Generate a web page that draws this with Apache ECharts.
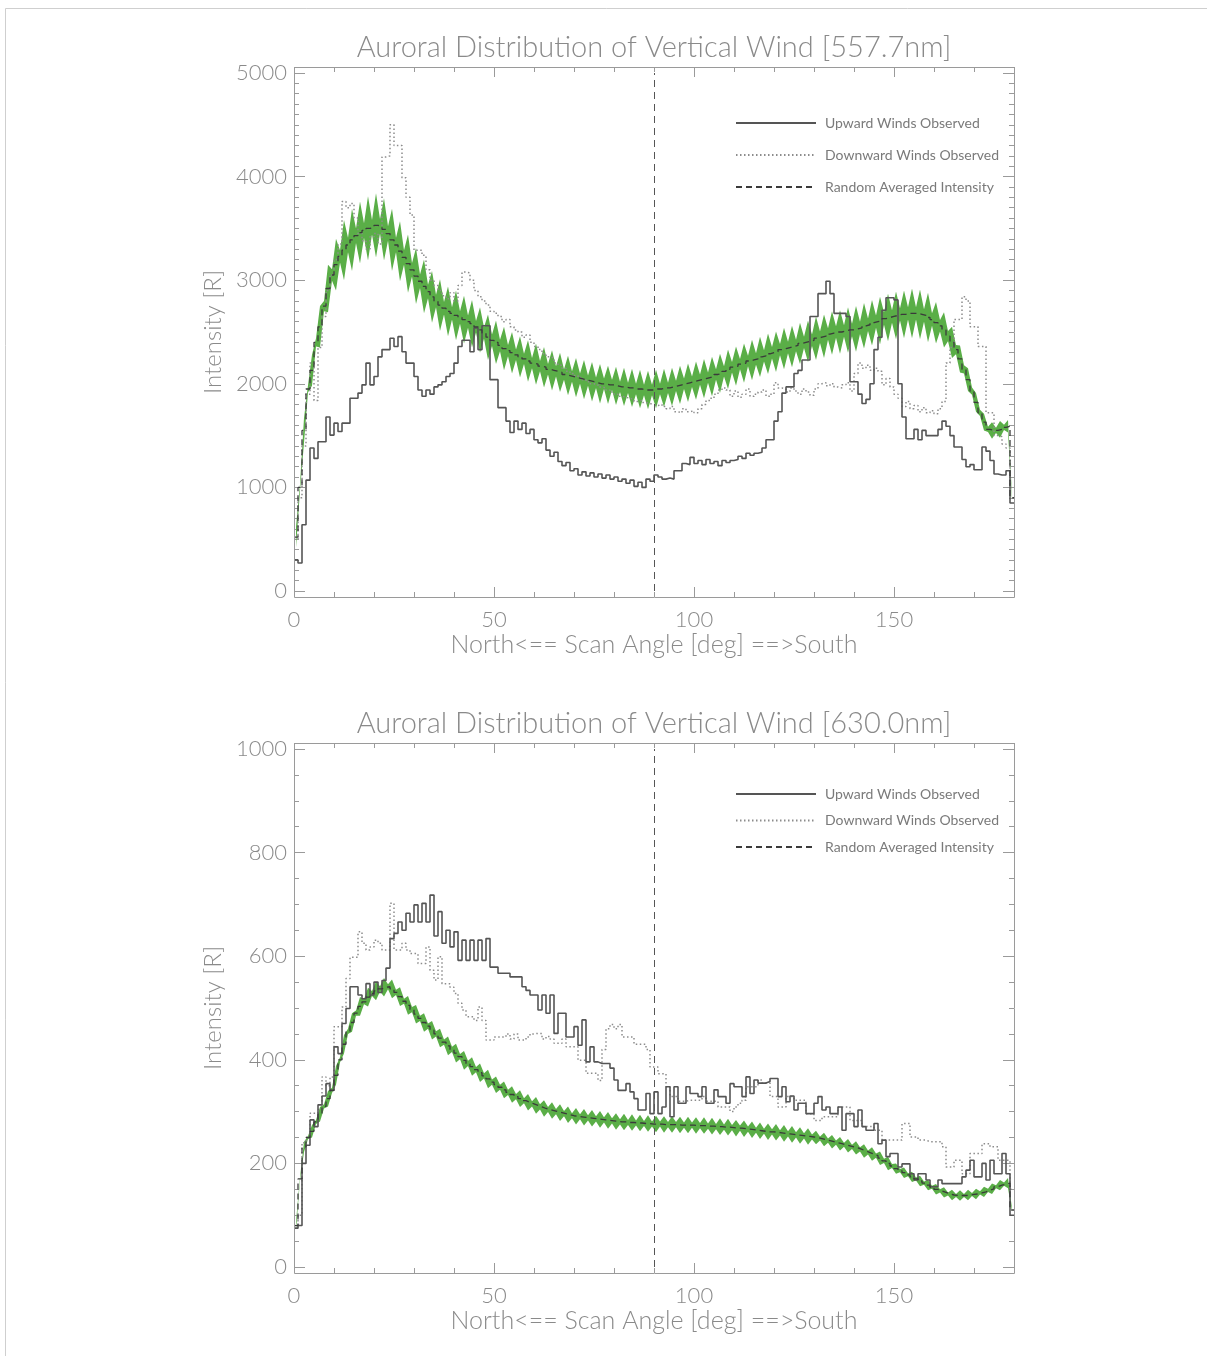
<!DOCTYPE html>
<html>
<head>
<meta charset="utf-8">
<title>Auroral Distribution of Vertical Wind</title>
<script src="https://cdn.jsdelivr.net/npm/echarts@6/dist/echarts.min.js"></script>
<style>
  html, body { margin: 0; padding: 0; background: #fff; }
  #chart { width: 1207px; height: 1356px; }
</style>
</head>
<body>
<div id="chart"></div>
<script>
// one value per 1 deg scan bin (0..179)
var upward557 = [
  300, 270, 640, 1070, 1380, 1280, 1440, 1440, 1680, 1505,
  1620, 1540, 1620, 1620, 1860, 1860, 1910, 1990, 2200, 1990,
  2070, 2260, 2330, 2330, 2440, 2360, 2455, 2310, 2200, 2200,
  2070, 1940, 1880, 1940, 1900, 1970, 1990, 2020, 2070, 2100,
  2200, 2360, 2420, 2420, 2310, 2540, 2330, 2560, 2560, 2040,
  2040, 1770, 1770, 1640, 1530, 1640, 1560, 1620, 1520, 1560,
  1460, 1430, 1470, 1360, 1300, 1340, 1250, 1210, 1240, 1160,
  1180, 1120, 1150, 1110, 1140, 1100, 1130, 1090, 1120, 1080,
  1100, 1060, 1080, 1040, 1070, 1010, 1050, 1000, 1080, 1060,
  1120, 1100, 1080, 1090, 1080, 1160, 1160, 1230, 1220, 1290,
  1230, 1260, 1220, 1270, 1230, 1250, 1210, 1260, 1240, 1260,
  1270, 1300, 1280, 1330, 1310, 1330, 1340, 1380, 1460, 1460,
  1640, 1730, 1910, 1970, 1970, 2100, 2130, 2230, 2230, 2650,
  2650, 2870, 2870, 2990, 2870, 2680, 2680, 2680, 2650, 2020,
  2020, 1900, 1810, 1850, 2000, 2330, 2450, 2710, 2830, 2830,
  2810, 2000, 1680, 1470, 1470, 1560, 1460, 1550, 1500, 1500,
  1500, 1560, 1640, 1590, 1500, 1390, 1390, 1270, 1200, 1220,
  1170, 1170, 1390, 1350, 1260, 1130, 1120, 1120, 1160, 850
]
var downward557 = [
  500, 900, 1400, 1900, 2200, 1840, 2350, 2650, 2900, 3050,
  3200, 3350, 3760, 3700, 3740, 3600, 3450, 3380, 3300, 3420,
  3450, 3350, 4190, 4200, 4500, 4300, 4300, 3990, 3800, 3630,
  3290, 3290, 3240, 3100, 3000, 2950, 2900, 2850, 2820, 2880,
  2800, 2950, 3080, 3070, 3000, 2900, 2840, 2800, 2760, 2700,
  2680, 2650, 2600, 2620, 2550, 2520, 2500, 2450, 2470, 2400,
  2360, 2330, 2290, 2260, 2250, 2200, 2180, 2150, 2120, 2100,
  2080, 2060, 2040, 2020, 2000, 1990, 1970, 1960, 1940, 1920,
  1900, 1880, 1870, 1860, 1850, 1830, 1840, 1820, 1810, 1800,
  1790, 1800, 1780, 1760, 1780, 1730, 1720, 1760, 1730, 1740,
  1720, 1760, 1800, 1840, 1860, 1900, 1940, 1960, 1940, 1880,
  1930, 1870, 1900, 1950, 1880, 1900, 1920, 1940, 1880, 1900,
  2010, 1960, 1950, 1920, 1960, 1930, 1900, 1950, 1920, 1890,
  1950, 2000, 2010, 1980, 2000, 1970, 1960, 1990, 2010, 1930,
  2100, 2200, 2150, 2180, 2130, 2150, 2120, 1990, 2050, 1970,
  1900, 1860, 1780, 1830, 1760, 1790, 1730, 1770, 1720, 1740,
  1710, 1760, 1830, 2200, 2350, 2620, 2620, 2840, 2800, 2550,
  2550, 2360, 2360, 1720, 1720, 1500, 1490, 1420, 1380, 1000
]
var average557 = [
  520, 1000, 1550, 1950, 2130, 2400, 2550, 2750, 2920, 3050,
  3150, 3230, 3290, 3340, 3390, 3430, 3460, 3480, 3500, 3510,
  3530, 3520, 3490, 3450, 3390, 3340, 3280, 3220, 3160, 3100,
  3040, 2990, 2940, 2890, 2840, 2800, 2760, 2730, 2700, 2680,
  2660, 2640, 2620, 2600, 2580, 2550, 2520, 2490, 2450, 2420,
  2400, 2370, 2340, 2320, 2300, 2280, 2260, 2240, 2220, 2200,
  2190, 2170, 2160, 2140, 2130, 2120, 2110, 2090, 2080, 2070,
  2060, 2050, 2040, 2030, 2020, 2010, 2000, 2000, 1990, 1990,
  1980, 1970, 1970, 1960, 1960, 1950, 1950, 1940, 1940, 1940,
  1950, 1950, 1960, 1960, 1970, 1980, 1990, 2000, 2010, 2020,
  2030, 2040, 2050, 2060, 2070, 2090, 2100, 2120, 2140, 2160,
  2170, 2190, 2200, 2220, 2230, 2240, 2260, 2270, 2290, 2300,
  2310, 2330, 2340, 2350, 2360, 2370, 2390, 2400, 2410, 2420,
  2440, 2450, 2460, 2480, 2490, 2500, 2500, 2510, 2520, 2520,
  2530, 2540, 2560, 2570, 2590, 2600, 2610, 2630, 2640, 2650,
  2660, 2670, 2670, 2680, 2680, 2680, 2670, 2660, 2640, 2620,
  2590, 2560, 2520, 2460, 2400, 2330, 2240, 2140, 2040, 1930,
  1820, 1720, 1630, 1560, 1550, 1550, 1560, 1580, 1590, 900
]
// half width of the green band (alternates bin to bin)
var spread557 = [
  100, 30, 120, 35, 150, 40, 200, 50, 230, 55,
  250, 60, 290, 70, 300, 70, 300, 70, 310, 70,
  310, 70, 300, 70, 300, 70, 290, 70, 280, 65,
  270, 65, 260, 65, 250, 60, 250, 60, 240, 60,
  240, 60, 230, 60, 230, 55, 220, 55, 220, 55,
  210, 55, 210, 55, 200, 50, 200, 50, 200, 50,
  200, 50, 195, 50, 195, 50, 190, 50, 190, 50,
  190, 50, 190, 50, 190, 50, 190, 50, 185, 50,
  185, 50, 185, 50, 185, 50, 185, 50, 185, 50,
  185, 50, 185, 50, 185, 50, 185, 50, 185, 50,
  185, 50, 190, 50, 190, 50, 190, 50, 190, 50,
  190, 50, 190, 50, 195, 55, 195, 55, 195, 55,
  195, 55, 200, 55, 200, 55, 200, 55, 200, 55,
  210, 55, 210, 55, 210, 55, 210, 55, 220, 60,
  220, 60, 220, 60, 220, 60, 230, 60, 230, 60,
  230, 60, 230, 60, 240, 60, 240, 60, 240, 60,
  200, 55, 170, 50, 150, 45, 130, 40, 110, 35,
  90, 30, 80, 25, 80, 25, 80, 25, 60, 20
]

var upward630 = [
  75, 80, 200, 235, 284, 271, 313, 330, 354, 341,
  425, 412, 470, 499, 541, 541, 525, 518, 547, 525,
  550, 530, 553, 577, 634, 644, 666, 650, 683, 666,
  699, 666, 702, 666, 718, 639, 686, 625, 650, 618,
  647, 592, 631, 592, 631, 592, 631, 592, 634, 579,
  579, 567, 567, 567, 560, 560, 560, 541, 534, 525,
  525, 496, 525, 490, 525, 451, 490, 490, 444, 444,
  464, 428, 477, 396, 425, 396, 393, 393, 393, 384,
  361, 341, 341, 354, 338, 325, 303, 303, 335, 296,
  338, 296, 309, 348, 290, 348, 316, 316, 348, 335,
  335, 329, 348, 316, 316, 342, 329, 329, 316, 354,
  348, 348, 329, 367, 335, 361, 355, 355, 358, 364,
  364, 329, 348, 319, 330, 303, 316, 316, 296, 296,
  316, 329, 303, 309, 296, 296, 309, 264, 296, 296,
  271, 303, 271, 264, 264, 277, 238, 245, 213, 219,
  219, 193, 199, 199, 180, 168, 180, 180, 168, 155,
  155, 168, 161, 161, 161, 161, 161, 174, 187, 206,
  174, 174, 200, 168, 206, 180, 180, 219, 180, 100
]
var downward630 = [
  80, 100, 240, 250, 297, 297, 304, 367, 350, 367,
  464, 464, 502, 557, 598, 598, 647, 625, 612, 618,
  631, 625, 612, 612, 702, 612, 612, 625, 612, 605,
  605, 586, 586, 618, 573, 554, 599, 547, 547, 540,
  528, 509, 496, 483, 483, 476, 502, 476, 438, 438,
  444, 444, 444, 450, 440, 450, 438, 438, 444, 450,
  451, 451, 440, 445, 440, 432, 432, 440, 425, 425,
  425, 399, 399, 374, 374, 374, 360, 420, 460, 468,
  460, 468, 444, 444, 444, 430, 430, 430, 420, 386,
  386, 373, 373, 348, 329, 329, 320, 320, 322, 322,
  322, 322, 329, 320, 320, 320, 309, 309, 309, 300,
  309, 316, 322, 348, 348, 348, 361, 355, 355, 329,
  329, 309, 309, 329, 329, 322, 322, 322, 296, 296,
  283, 283, 290, 290, 290, 290, 309, 309, 309, 283,
  283, 283, 271, 271, 271, 264, 264, 245, 245, 245,
  245, 245, 277, 277, 251, 251, 245, 245, 242, 242,
  242, 242, 232, 193, 193, 206, 206, 180, 180, 219,
  219, 219, 238, 238, 232, 232, 206, 206, 206, 150
]
var average630 = [
  80, 170, 232, 250, 262, 280, 295, 310, 325, 341,
  370, 400, 430, 455, 472, 490, 503, 512, 521, 528,
  533, 537, 540, 541, 537, 530, 522, 513, 505, 497,
  488, 480, 472, 465, 457, 450, 442, 434, 427, 420,
  413, 406, 399, 393, 387, 381, 375, 369, 363, 357,
  352, 347, 342, 337, 333, 329, 325, 321, 318, 315,
  312, 309, 306, 304, 302, 300, 298, 296, 294, 292,
  291, 290, 289, 288, 287, 286, 285, 284, 283, 282,
  281, 280, 280, 279, 279, 278, 278, 277, 277, 276,
  276, 276, 275, 275, 275, 275, 274, 274, 274, 274,
  273, 273, 273, 272, 272, 271, 271, 270, 270, 269,
  268, 268, 267, 266, 265, 264, 263, 262, 261, 261,
  260, 259, 258, 257, 256, 255, 254, 253, 252, 251,
  250, 248, 246, 244, 242, 240, 238, 236, 234, 232,
  230, 227, 224, 221, 218, 215, 210, 205, 200, 195,
  190, 186, 182, 178, 174, 170, 166, 162, 158, 154,
  150, 147, 144, 141, 139, 138, 138, 138, 139, 140,
  141, 143, 145, 148, 151, 155, 158, 160, 162, 110
]
var spread630 = [
  8, 3, 10, 3, 12, 4, 14, 4, 15, 5,
  18, 5, 18, 5, 18, 5, 18, 5, 18, 5,
  18, 5, 18, 5, 18, 5, 18, 5, 18, 5,
  18, 5, 18, 5, 18, 5, 18, 5, 18, 5,
  18, 5, 18, 5, 18, 5, 18, 5, 18, 5,
  16, 5, 16, 5, 16, 5, 16, 5, 16, 5,
  16, 5, 16, 5, 16, 5, 16, 5, 16, 5,
  16, 5, 16, 5, 16, 5, 16, 5, 16, 5,
  16, 5, 16, 5, 16, 5, 16, 5, 16, 5,
  16, 5, 16, 5, 16, 5, 16, 5, 16, 5,
  16, 5, 16, 5, 16, 5, 16, 5, 16, 5,
  16, 5, 16, 5, 16, 5, 16, 5, 16, 5,
  16, 5, 16, 5, 16, 5, 16, 5, 16, 5,
  13, 4, 13, 4, 13, 4, 13, 4, 13, 4,
  13, 4, 13, 4, 13, 4, 13, 4, 13, 4,
  10, 3, 10, 3, 10, 3, 10, 3, 10, 3,
  10, 3, 10, 3, 10, 3, 10, 3, 10, 3,
  10, 3, 10, 3, 10, 3, 10, 3, 10, 3
]

var titles = ['Auroral Distribution of Vertical Wind [557.7nm]', 'Auroral Distribution of Vertical Wind [630.0nm]']
var seriesNames = ['Upward Winds Observed', 'Downward Winds Observed', 'Random Averaged Intensity']
var xName = 'North<== Scan Angle [deg] ==>South'
var yName = 'Intensity [R]'
var yMax = [5000, 1000]
var yStep = [1000, 200]
var yMinorSplit = [10, 4]
var centerAngle = 90

var TXT = '#8a8a8a'
var AXIS = '#9a9a9a'
var GREEN = '#5aae47'
var FONT = 'Lato, "Open Sans", "DejaVu Sans", sans-serif'

var panels = [
  { up: upward557, down: downward557, avg: average557, spread: spread557, top: 73, legendTop: 111, legendGap: 18 },
  { up: upward630, down: downward630, avg: average630, spread: spread630, top: 749, legendTop: 782, legendGap: 12.5 }
]

function stepPoints (vals) {
  var pts = vals.map(function (v, i) { return [i, v] })
  pts.push([vals.length, vals[vals.length - 1]])
  return pts
}

var grid = []
var xAxis = []
var yAxis = []
var series = []
var legend = []
var graphic = [
  { type: 'rect', silent: true, z: -10, shape: { x: 5.5, y: 8.5, width: 1240, height: 1400 }, style: { fill: 'none', stroke: '#cfcfcf', lineWidth: 1 } }
]

panels.forEach(function (p, g) {
  grid.push({ left: 294, width: 720, top: p.top, height: 518 })

  var tickStyle = { color: AXIS, width: 1 }
  var xBase = { gridIndex: g, type: 'value', min: 0, max: 180, offset: 6,
    axisLine: { show: false, onZero: false }, splitLine: { show: false }, axisLabel: { show: false } }
  xAxis.push(Object.assign({}, xBase, { position: 'bottom', interval: 10, axisTick: { inside: true, length: 5, lineStyle: tickStyle } }))
  xAxis.push(Object.assign({}, xBase, {
    position: 'bottom', interval: 50,
    axisTick: { inside: true, length: 10, lineStyle: tickStyle },
    axisLabel: { show: true, margin: 12, color: TXT, fontSize: 22, fontFamily: FONT, fontWeight: 300,
      formatter: function (v) { return v % 50 === 0 ? String(v) : '' } },
    name: xName, nameLocation: 'middle', nameGap: 35,
    nameTextStyle: { color: TXT, fontSize: 25, fontFamily: FONT, fontWeight: 300 }
  }))
  xAxis.push(Object.assign({}, xBase, { position: 'top', interval: 10, axisTick: { inside: true, length: 5, lineStyle: tickStyle } }))
  xAxis.push(Object.assign({}, xBase, { position: 'top', interval: 50, axisTick: { inside: true, length: 10, lineStyle: tickStyle } }))

  var yBase = { gridIndex: g, type: 'value', min: 0, max: yMax[g], interval: yStep[g],
    axisLine: { show: false, onZero: false }, splitLine: { show: false },
    axisTick: { inside: true, length: 11, lineStyle: tickStyle },
    minorTick: { show: true, splitNumber: yMinorSplit[g], length: 5, lineStyle: tickStyle } }
  yAxis.push(Object.assign({}, yBase, {
    position: 'left',
    axisLabel: { margin: 7, color: TXT, fontSize: 22, fontFamily: FONT, fontWeight: 300,
      formatter: function (v) { return String(v) } },
    name: yName, nameLocation: 'middle', nameGap: 68,
    nameTextStyle: { color: TXT, fontSize: 24, fontFamily: FONT, fontWeight: 300 }
  }))
  yAxis.push(Object.assign({}, yBase, { position: 'right', axisLabel: { show: false } }))

  var xi = g * 4 + 1
  var yi = g * 2

  // green band: polygon through the upper edge, back along the lower edge
  var bandRows = p.avg.map(function (v, i) { return [i + 0.5, v - p.spread[i], v + p.spread[i]] })
  series.push({
    name: 'band ' + g, type: 'custom', xAxisIndex: xi, yAxisIndex: yi, silent: true,
    encode: { x: 0, y: [1, 2] },
    data: bandRows,
    renderItem: function (params, api) {
      if (params.dataIndex !== 0) return null
      var upper = bandRows.map(function (r) { return api.coord([r[0], r[2]]) })
      var lower = bandRows.map(function (r) { return api.coord([r[0], r[1]]) }).reverse()
      return { type: 'polygon', shape: { points: upper.concat(lower) }, style: { fill: GREEN } }
    }
  })
  series.push({
    name: seriesNames[1], type: 'line', xAxisIndex: xi, yAxisIndex: yi, step: 'end', symbol: 'none',
    itemStyle: { color: '#8c8c8c' },
    lineStyle: { color: '#8c8c8c', width: 1.5, type: [1.5, 2.5] },
    data: stepPoints(p.down)
  })
  series.push({
    name: seriesNames[0], type: 'line', xAxisIndex: xi, yAxisIndex: yi, step: 'end', symbol: 'none',
    itemStyle: { color: '#555555' },
    lineStyle: { color: '#555555', width: 1.6 },
    data: stepPoints(p.up),
    markLine: {
      silent: true, symbol: ['none', 'none'], label: { show: false },
      lineStyle: { color: '#555555', width: 1, type: [7, 5] },
      data: [{ xAxis: centerAngle }]
    }
  })
  series.push({
    name: seriesNames[2], type: 'line', xAxisIndex: xi, yAxisIndex: yi, step: 'end', symbol: 'none',
    itemStyle: { color: '#3a3a3a' },
    lineStyle: { color: '#3a3a3a', width: 1.3, type: [6, 4] },
    data: stepPoints(p.avg)
  })

  legend.push({
    data: seriesNames, orient: 'vertical', left: 730, top: p.legendTop,
    itemWidth: 80, itemHeight: 14, itemGap: p.legendGap,
    itemStyle: { opacity: 0 }, selectedMode: false,
    textStyle: { color: '#7a7a7a', fontSize: 14, fontFamily: FONT, padding: [0, 0, 0, 4] }
  })

  var frameTop = p.top - 6
  graphic.push({ type: 'rect', silent: true, z: 100, shape: { x: 294.5, y: frameTop + 0.5, width: 720, height: 530 },
    style: { fill: 'none', stroke: AXIS, lineWidth: 1 } })
  graphic.push({ type: 'text', silent: true, x: 654, y: frameTop - 19,
    style: { text: titles[g], fill: TXT, font: '300 29px ' + FONT, textAlign: 'center', textVerticalAlign: 'middle', align: 'center', verticalAlign: 'middle' } })
})

var chart = echarts.init(document.getElementById('chart'))
chart.setOption({
  animation: false,
  backgroundColor: '#ffffff',
  grid: grid,
  xAxis: xAxis,
  yAxis: yAxis,
  legend: legend,
  graphic: graphic,
  series: series
})
</script>
</body>
</html>
